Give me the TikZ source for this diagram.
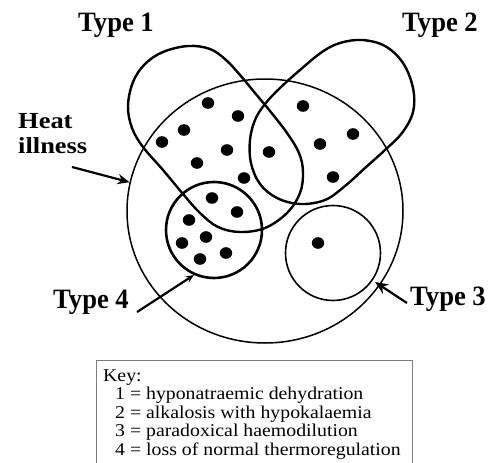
\documentclass[tikz,border=0pt]{standalone}
\usepackage{fontspec}
\setmainfont{Liberation Serif}
\newfontfamily\typefont[FakeStretch=0.95]{Liberation Serif}
\newfontfamily\heatfont[FakeStretch=1.15]{Liberation Serif}
\newfontfamily\keyfont[FakeStretch=1.1]{Liberation Serif}
\usepackage{tikz}
\usetikzlibrary{arrows.meta,shapes.geometric,positioning}
\usepackage{xcolor}
\definecolor{keycol}{RGB}{125,125,125}
\tikzset{
  % bold labels of the types
  typelabel/.style={font=\typefont\fontsize{28}{28}\selectfont\bfseries, inner sep=0pt, anchor=base west},
  % bold label of the whole set
  heatlabel/.style={font=\heatfont\fontsize{23}{25}\selectfont\bfseries, inner sep=0pt, anchor=base west},
  % lines of the key
  keyline/.style={font=\keyfont\fontsize{18}{18}\selectfont, inner sep=0pt, anchor=base west},
  % all heat illness
  bigset/.style={ellipse, draw, line width=1.5pt, minimum width=276pt, minimum height=264pt, inner sep=0pt},
  % round sub-sets
  roundset/.style={circle, draw, line width=#1, minimum size=95pt, inner sep=0pt},
  roundset/.default={1.6pt},
  % long sub-sets
  lobe/.style={draw, line width=2.4pt, line join=round},
  % one case
  casedot/.style={fill=black},
  % pointing arrow
  pointer/.style={-{Stealth[length=#1,width=0.85*#1]}, line width=2.2pt},
  pointer/.default={12pt},
}

\begin{document}
\begin{tikzpicture}[x=1pt, y=-1pt]
  \useasboundingbox (0,0) rectangle (491,463);
  % outer set
  \node[bigset] (outer) at (265,211) {};
  % type 4 and type 3
  \node[roundset=2.6pt, minimum size=96pt] (c4) at (214,230) {};
  \node[roundset] (c3) at (333,253) {};
  % type 1
  \draw[lobe] plot[smooth cycle, tension=0.6] coordinates {
    (188,46) (210,49) (226,60) (240,75) (255,93) (270,111) (287,133) (299,153)
    (303,172) (300,193) (287,213) (265,228) (240,232) (218,227) (200,213)
    (183,194) (163,170) (143,147) (132,128) (128,106) (133,82) (145,64) (163,52)};
  % type 2
  \draw[lobe] plot[smooth cycle, tension=0.6] coordinates {
    (322,52) (340,43) (362,40) (385,46) (403,63) (413,88) (413,112) (402,133)
    (385,150) (365,168) (345,186) (325,200) (300,204) (277,198) (260,184)
    (251,163) (250,140) (255,120) (265,104) (280,88) (300,70)};
  % cases
  \foreach \px/\py in {208/103, 238/116, 184/130, 162/142, 227/150, 197/163,
      244/178, 269/152, 303/106, 353/134, 320/144, 333/177, 212/198, 237/212,
      189/220, 206/237, 182/243, 200/259, 226/253, 318/243}
    \fill[casedot] (\px,\py) ellipse (6.2pt and 5.8pt);
  % labels
  \node[typelabel] (t1) at (78,31) {Type 1};
  \node[typelabel] (t2) at (402,31) {Type 2};
  \node[typelabel] (t4) at (53,308) {Type 4};
  \node[typelabel] (t3) at (410,305) {Type 3};
  \node[heatlabel] (heat) at (18,128) {Heat};
  \node[heatlabel] (ill) at (18,153) {illness};
  % arrows
  \coordinate (heattail) at (72,167);
  \coordinate (t4tail) at (137,312);
  \coordinate (t3tail) at (407,303);
  \coordinate (t3tip) at (375,282);
  \draw[pointer] (heattail) -- (outer.168);
  \draw[pointer=8pt] (t4tail) -- (c4.246);
  \draw[pointer=13pt] (t3tail) -- (t3tip);
  % key (runs off the bottom)
  \draw[keycol, line width=1pt] (96,470) -- (96,360) -- (412,360) -- (412,470);
  \node[keyline] (key) at (103,381) {Key:};
  \node[keyline] (k1) at (115,399.6) {1 = hyponatraemic dehydration};
  \node[keyline] (k2) at (115,418.2) {2 = alkalosis with hypokalaemia};
  \node[keyline] (k3) at (115,436.8) {3 = paradoxical haemodilution};
  \node[keyline] (k4) at (115,455.4) {4 = loss of normal thermoregulation};
\end{tikzpicture}
\end{document}
